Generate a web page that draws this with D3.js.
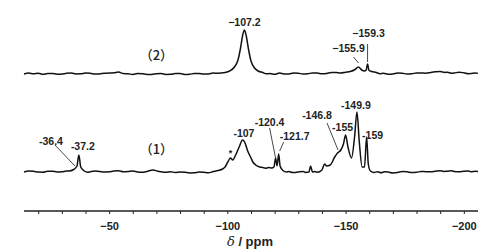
<!DOCTYPE html>
<html>
<head>
<meta charset="utf-8">
<script src="https://cdn.jsdelivr.net/npm/d3@7"></script>
<style>
  body { margin: 0; background: #fff; }
  text { font-family: "Liberation Sans", Arial, sans-serif; fill: #222; }
</style>
</head>
<body>
<div id="container"></div>
<script>
// spectrum (2): [ppm, intensity]
const spec2 = [
  [-14, 0], [-16, 0.9], [-18, 0.2], [-20, 0.8], [-22, -0.3], [-24, 0.5], [-26, 0.6], [-28, -0.2],
  [-30, 0], [-32, 0.7], [-34, 0.9], [-36, 0.1], [-38, 0.2], [-40, 0.9], [-42, 0.7], [-44, -0.1],
  [-46, 0.1], [-48, 0.8], [-50, 0.9], [-52, 1.2], [-54, 2], [-56, 0.4], [-58, 0.2], [-60, -0.5],
  [-62, 0.4], [-64, 0.3], [-66, -0.5], [-68, -0.4], [-70, 0.3], [-72, 0.5], [-74, -0.4], [-76, -0.3],
  [-78, 0.5], [-80, 0.4], [-82, -0.4], [-84, -0.2], [-86, 0.5], [-88, 0.6], [-90, -0.1],
  [-92, 0], [-94, 0.9], [-96, 0.8], [-99, 1.5], [-101, 3], [-103, 7], [-104.5, 14], [-105.5, 25],
  [-106.5, 39], [-107.2, 44], [-108, 38], [-109, 24], [-110, 13], [-111.5, 6], [-113, 3],
  [-115, 1.5], [-116.5, 0.2], [-118, 0.4], [-120, -0.3], [-122, 0.9], [-124, 0.1], [-126, 0],
  [-128, 0.9], [-130, 0.8], [-132, -0.1], [-134, 0.2], [-136, 1.1], [-138, 1], [-140, 0.2],
  [-142, 0.6], [-144, 1.5], [-146, 1.4], [-148, 0.9], [-150, 1.8], [-152, 2.5], [-154, 4.5],
  [-155.4, 7], [-156.8, 4], [-158, 3], [-158.7, 4], [-159.3, 10], [-159.9, 3.5], [-161, 2.5],
  [-163, 1.5], [-164.5, 0.3], [-166, 0.7], [-168, -0.2], [-170, 0], [-172, 0.9], [-174, 0.8],
  [-176, -0.1], [-178, 0.2], [-180, 1.1], [-182, 1], [-184, 0.8], [-186, 1.6], [-188, 2.2],
  [-190, 2.5], [-192, 1.6], [-193, 1.8], [-195, 0.7], [-196, 1], [-198, 1.8], [-200, 1.2],
  [-202, 0.3], [-203, 0.4], [-205, 1.1], [-206, 0.6]
];
// spectrum (1): [ppm, intensity]
const spec1 = [
  [-14, 0], [-16, 0.9], [-18, 0.7], [-20, -0.1], [-22, -0.2], [-24, 0.8], [-26, 0.8], [-28, 0],
  [-30, 0.2], [-32, 1], [-33, 1], [-35, 2.5], [-36.4, 6], [-37.2, 17], [-38, 5], [-39.5, 1],
  [-41, -0.3], [-42, 0.3], [-44, 0.9], [-46, 0.6], [-48, -0.1], [-50, 0.2], [-52, 0.9],
  [-54, 1.2], [-56, 0.2], [-58, 0.4], [-60, 0.9], [-62, 0.1], [-64, -0.2], [-66, 0.6],
  [-68.5, 2], [-70.5, 0.8], [-72, 0.2], [-74, -0.3], [-76, 0.3], [-78, -0.6], [-80, 0.1],
  [-82, -0.2], [-84, -0.9], [-86, -0.8], [-88, 0], [-90, -0.3], [-92, -0.8], [-94, 0.4],
  [-96, 1.5], [-98, 3], [-99, 5], [-100.2, 10], [-101.3, 14], [-102.3, 12], [-103.5, 17],
  [-105, 25], [-106.4, 32], [-107.3, 30], [-108.6, 21], [-110, 14], [-110.8, 10], [-112, 7],
  [-113.7, 5], [-115, 4.5], [-116, 3.8], [-117.5, 4.4], [-118.8, 4], [-119.7, 5], [-120.4, 14],
  [-121, 6], [-121.7, 18], [-122.3, 6], [-123.5, 1.5], [-125, 0.1], [-126, 0.5], [-127.5, -0.6],
  [-129, -0.5], [-130.5, 0.3], [-132, 0.5], [-133, -0.4], [-134.5, 0], [-135.2, 6], [-136, 0],
  [-137, 0.6], [-138, -0.3], [-140, 2], [-141.1, 8], [-142, 6], [-143.5, 7], [-145.4, 15],
  [-146.6, 19], [-148, 22], [-149.1, 28], [-150, 37], [-151, 25], [-152.5, 14], [-153.8, 35],
  [-154.8, 60], [-155.8, 30], [-157, 5], [-158, 5], [-158.9, 35], [-159.6, 8], [-160.5, 1],
  [-162, -0.5], [-163.5, 0.2], [-165, -0.8], [-166.5, 0.3], [-168, 0], [-170, -0.9],
  [-172, -0.5], [-174, 0.4], [-176, 0.2], [-178, -0.6], [-180, -0.3], [-182, 0.6], [-184, 0.3],
  [-186, 0.2], [-188, 0.8], [-190, 1.3], [-191.5, 0.6], [-193, 0.8], [-195, 1.2], [-196, 0.4],
  [-198, 0.2], [-200, 0.8], [-202, 1], [-203, 0.2], [-205, 0.7], [-206, 0.4]
];
const xTicksMajor = [-50, -100, -150, -200];
const xTickLabels = ["\u221250", "\u2212100", "\u2212150", "\u2212200"];
const spectrumNames = ["（1）", "（2）"];

// peak labels: text, peak ppm
const labels2 = [["\u2212107.2", -107.2], ["\u2212155.9", -155.9], ["\u2212159.3", -159.3]];
const labels1 = [["-36.4", -36.4], ["-37.2", -37.2], ["-107", -107], ["-120.4", -120.4],
  ["-121.7", -121.7], ["-146.8", -146.8], ["-155", -150], ["-149.9", -154.8], ["-159", -158.9]];

const width = 503, height = 252;
const svg = d3.select("#container").append("svg")
  .attr("width", width).attr("height", height);

const x = d3.scaleLinear().domain([-14, -206]).range([24, 478]);
const y = d3.scaleLinear().domain([0, 200]).range([211, 11]);
const off1 = 39, off2 = 137;

const line = (off) => d3.line()
  .x(d => x(d[0]))
  .y(d => y(d[1] + off))
  .curve(d3.curveMonotoneX);

svg.append("path").datum(spec2).attr("d", line(off2))
  .attr("fill", "none").attr("stroke", "#111").attr("stroke-width", 1.5);
svg.append("path").datum(spec1).attr("d", line(off1))
  .attr("fill", "none").attr("stroke", "#111").attr("stroke-width", 1.5);

// x axis
const axis = d3.axisBottom(x)
  .tickValues(d3.range(-20, -201, -10))
  .tickSize(3)
  .tickFormat(d => {
    const i = xTicksMajor.indexOf(d);
    return i >= 0 ? xTickLabels[i] : "";
  });
const gx = svg.append("g").attr("transform", "translate(0,211)").call(axis);
gx.select(".domain").attr("d", "M24,0H478").attr("stroke", "#222").attr("stroke-width", 1.3);
gx.selectAll(".tick line").attr("stroke", "#222");
gx.selectAll(".tick text").attr("y", 11)
  .style("font-size", "11px").style("font-weight", "bold")
  .style("font-family", "'Liberation Sans', Arial, sans-serif").attr("fill", "#222");

const title = svg.append("text").attr("x", 250).attr("y", 246)
  .attr("text-anchor", "middle").style("font-size", "13px").style("font-weight", "bold");
title.append("tspan").style("font-style", "italic").style("font-weight", "normal")
  .style("font-family", "'DejaVu Serif', serif").text("δ");
title.append("tspan").text(" / ppm");

// spectrum names
svg.append("text").attr("x", x(-70)).attr("y", 60).attr("text-anchor", "middle")
  .style("font-family", "'Noto Sans CJK SC', sans-serif").style("font-size", "13px")
  .style("font-weight", "500").text(spectrumNames[1]);
svg.append("text").attr("x", x(-70)).attr("y", 154).attr("text-anchor", "middle")
  .style("font-family", "'Noto Sans CJK SC', sans-serif").style("font-size", "13px")
  .style("font-weight", "500").text(spectrumNames[0]);

// label layout (pixel offsets from peak x, baseline y)
const pos2 = { "\u2212107.2": [0, 26], "\u2212155.9": [-11, 52], "\u2212159.3": [1, 37] };
const pos1 = { "-36.4": [-26, 145], "-37.2": [4, 150], "-107": [0, 137], "-120.4": [-6, 126],
  "-121.7": [16, 140], "-146.8": [-21, 119], "-155": [-3, 131], "-149.9": [-1, 109], "-159": [6, 139] };

const drawLabels = (arr, pos) => svg.append("g").selectAll("text").data(arr).enter()
  .append("text")
  .attr("x", d => x(d[1]) + pos[d[0]][0])
  .attr("y", d => pos[d[0]][1])
  .attr("text-anchor", "middle")
  .style("font-size", "10.5px").style("font-weight", "bold")
  .text(d => d[0]);
drawLabels(labels2, pos2);
drawLabels(labels1, pos1);

// leader lines [ppm, dx1, y1, dx2, y2]
const leaders = [
  [-155.9, -6, 57, -1, 63], [-159.3, 0, 44, 0, 62],
  [-36.4, -22, 145, -2, 166], [-120.4, -6, 128, 0, 158],
  [-121.7, 5, 142, 1, 151], [-146.8, -11, 123, 0, 150]
];
svg.append("g").selectAll("line").data(leaders).enter().append("line")
  .attr("x1", d => x(d[0]) + d[1]).attr("y1", d => d[2])
  .attr("x2", d => x(d[0]) + d[3]).attr("y2", d => d[4])
  .attr("stroke", "#333").attr("stroke-width", 0.9);

svg.append("text").attr("x", x(-101.3)).attr("y", 156).attr("text-anchor", "middle")
  .style("font-size", "9px").style("font-weight", "bold").text("*");
</script>
</body>
</html>
